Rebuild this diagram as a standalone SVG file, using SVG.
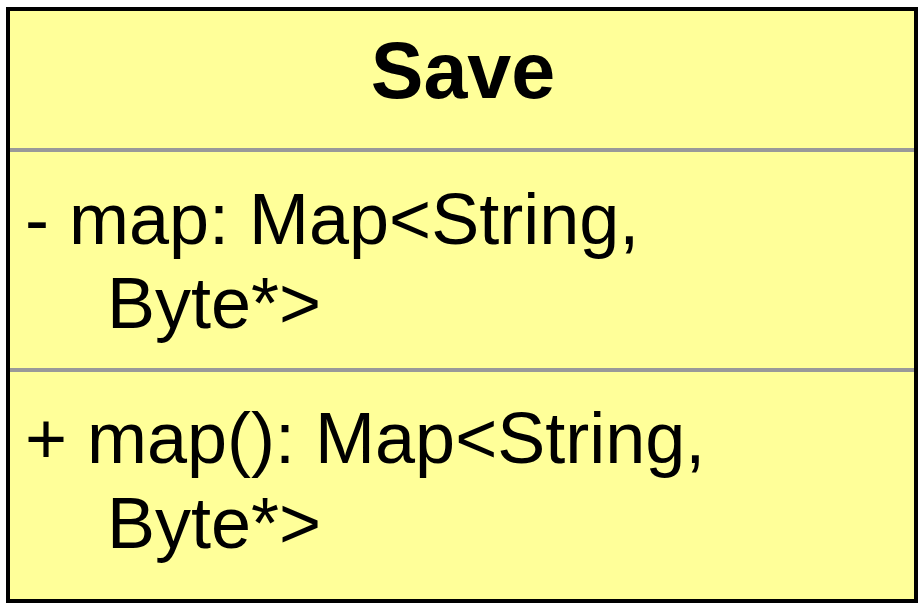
<svg xmlns="http://www.w3.org/2000/svg" width="922" height="608" viewBox="0 0 922 608">
<style>
.t{font-family:"Liberation Sans",Arial,sans-serif;font-size:72px;fill:#000}
.h{font-family:"Liberation Sans",Arial,sans-serif;font-size:79px;font-weight:bold;fill:#000}
.d{stroke:#999;stroke-width:4}
</style>
<rect width="922" height="608" fill="#fff"/>
<g id="Save">
<rect x="8" y="9" width="908" height="592" fill="#ffff99" stroke="#000" stroke-width="4"/>
<text class="h" x="463" y="98" text-anchor="middle">Save</text>
<line class="d" x1="10" y1="150" x2="914" y2="150"/>
<text class="t" x="25" y="244">- map: Map&lt;String,</text>
<text class="t" x="107" y="328">Byte*&gt;</text>
<line class="d" x1="10" y1="370" x2="914" y2="370"/>
<text class="t" x="25" y="463">+ map(): Map&lt;String,</text>
<text class="t" x="107" y="548">Byte*&gt;</text>
</g>
<g id="connectors"/>
</svg>
